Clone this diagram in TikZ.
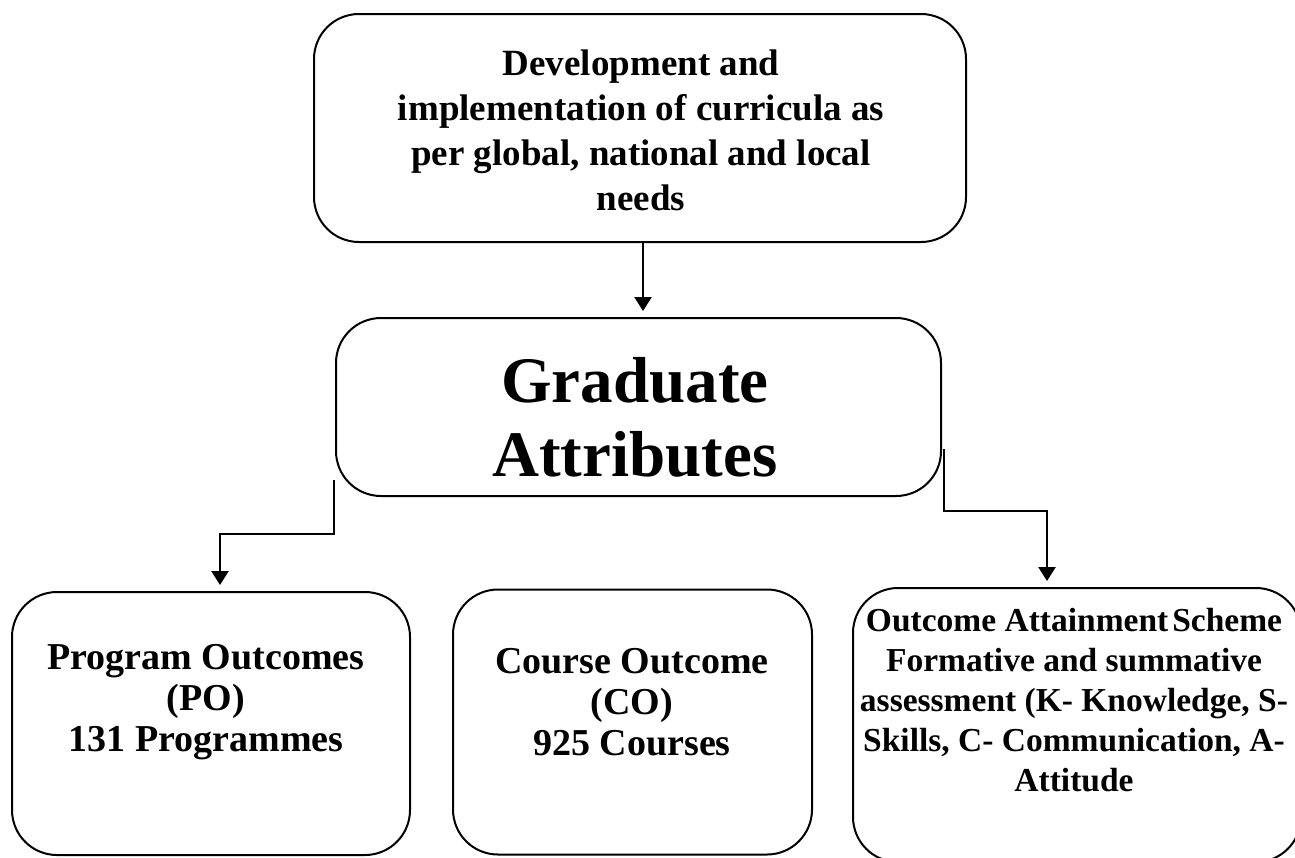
\documentclass[tikz,border=0pt]{standalone}
\usepackage{fontspec}
\setmainfont{Liberation Serif}
\usetikzlibrary{arrows.meta,calc}
\begin{document}
\begin{tikzpicture}[x=1pt,y=-1pt,
  box/.style={draw, line width=2pt, rounded corners=45pt, inner sep=0pt},
  txt/.style={align=center, inner sep=0pt},
  conn/.style={line width=2.5pt, -{Triangle[width=17pt,length=14pt]}, shorten >=6pt}]
\useasboundingbox (0,0) rectangle (1295,857);
% boxes
\node[box, minimum width=652pt, minimum height=228pt] (top) at (640,128) {};
\node[box, minimum width=605pt, minimum height=178pt] (mid) at (638.5,407) {};
\node[box, minimum width=398pt, minimum height=263pt] (po) at (211,723.5) {};
\node[box, minimum width=359pt, minimum height=265pt] (co) at (632.5,722) {};
\node[box, minimum width=448pt, minimum height=274pt] (oa) at (1077,725) {};
% texts
\node[txt, font=\bfseries\fontsize{37}{45}\selectfont] (top-t) at (641,130) {Development and\\implementation of curricula as\\per global, national and local\\needs};
\node[txt, font=\bfseries\fontsize{65}{74}\selectfont] (mid-t) at (635,417) {Graduate\\Attributes};
\node[txt, font=\bfseries\fontsize{38}{41}\selectfont] (po-t) at (206,702) {Program Outcomes\\(PO)\\131 Programmes};
\node[txt, font=\bfseries\fontsize{38}{41}\selectfont] (co-t) at (632,702) {Course Outcome\\(CO)\\925 Courses};
\node[txt, font=\bfseries\fontsize{33.5}{40}\selectfont] (oa-t) at (1074,700) {Outcome Attainment\hspace{4pt}Scheme\\Formative and summative\\assessment (K- Knowledge, S-\\Skills, C- Communication, A-\\Attitude};
% connectors
\draw[conn] (top.south -| 643,0) -- (mid.north -| 643,0);
\draw[conn] ($(mid.south west)+(-1,-17)$) -- ++(0,54) -| ($(po.north)+(9,0)$);
\draw[conn] ($(mid.south east)+(2,-48)$) -- ++(0,62) -| ($(oa.north)+(-30,0)$);
\end{tikzpicture}
\end{document}
